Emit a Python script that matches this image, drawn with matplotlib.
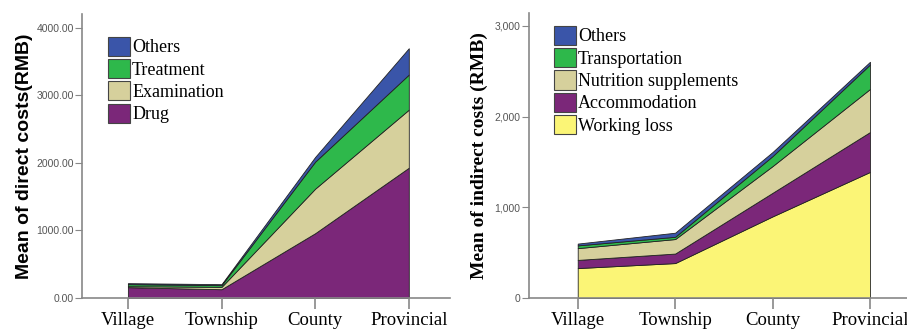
import matplotlib
matplotlib.use("Agg")
import matplotlib.pyplot as plt
from matplotlib.patches import Patch
import numpy as np

categories = ["Village", "Township", "County", "Provincial"]

# Direct costs (RMB)
direct_labels = ["Drug", "Examination", "Treatment", "Others"]
drug = [160, 130, 960, 1930]
examination = [15, 35, 660, 860]
treatment = [30, 25, 400, 520]
others_direct = [15, 15, 70, 390]

# Indirect costs (RMB)
indirect_labels = ["Working loss", "Accommodation", "Nutrition supplements", "Transportation", "Others"]
working_loss = [330, 385, 900, 1390]
accommodation = [90, 105, 260, 440]
nutrition = [130, 160, 295, 475]
transportation = [30, 25, 110, 270]
others_indirect = [20, 45, 45, 30]

purple = "#7B2779"
khaki = "#D6D09C"
green = "#2EB84B"
blue = "#3A55A9"
yellow = "#FBF576"

fig = plt.figure(figsize=(9.07, 3.31), dpi=100)
W, H = 907, 331

def add_ax(l, r, b, t):
    return fig.add_axes([l / W, 1 - b / H, (r - l) / W, (b - t) / H])

serif = "Liberation Serif"
sans = "Liberation Sans"

def style(ax):
    for s in ["top", "right"]:
        ax.spines[s].set_visible(False)
    for s in ["left", "bottom"]:
        ax.spines[s].set_color("#888888")
        ax.spines[s].set_linewidth(1.2)
    ax.tick_params(axis="y", direction="out", length=5, color="#888888", labelsize=7.5,
                   labelcolor="#555555", pad=1)
    ax.tick_params(axis="x", direction="out", length=8, color="#888888", width=1.2,
                   labelsize=13.5, pad=2)
    for lab in ax.get_yticklabels():
        lab.set_fontfamily(sans)
    for lab in ax.get_xticklabels():
        lab.set_fontfamily(serif)

x = np.arange(len(categories))

leg_kw = dict(loc="upper left", frameon=False, prop={"family": serif, "size": 13},
              handlelength=1.25, handleheight=1.25, handletextpad=0.1, labelspacing=0.15,
              borderaxespad=0, borderpad=0)

# Left panel
ax1 = add_ax(82, 450, 298, 14)
ax1.stackplot(x, drug, examination, treatment, others_direct,
              colors=[purple, khaki, green, blue], edgecolor="#222222", linewidth=0.6)
ax1.set_xlim(-0.49, 3.44)
ax1.set_ylim(0, 4207)
ax1.set_xticks(x)
ax1.set_xticklabels(categories)
ax1.set_yticks([0, 1000, 2000, 3000, 4000])
ax1.set_yticklabels(["0.00", "1000.00", "2000.00", "3000.00", "4000.00"])
style(ax1)
ax1.set_ylabel("Mean of direct costs(RMB)", fontfamily=sans, fontweight="bold", fontsize=14, labelpad=2)
h1 = [Patch(facecolor=c, edgecolor="#444444", linewidth=0.8) for c in [blue, green, khaki, purple]]
ax1.legend(h1, ["Others", "Treatment", "Examination", "Drug"],
           bbox_to_anchor=(0.07, 0.92), **leg_kw)

# Right panel
ax2 = add_ax(529, 907, 298, 13)
ax2.stackplot(x, working_loss, accommodation, nutrition, transportation, others_indirect,
              colors=[yellow, purple, khaki, green, blue], edgecolor="#222222", linewidth=0.6)
ax2.set_xlim(-0.50, 3.38)
ax2.set_ylim(0, 3143)
ax2.set_xticks(x)
ax2.set_xticklabels(categories)
ax2.set_yticks([0, 1000, 2000, 3000])
ax2.set_yticklabels(["0", "1,000", "2,000", "3,000"])
style(ax2)
ax2.set_ylabel("Mean of indirect costs (RMB)", fontfamily=serif, fontweight="bold", fontsize=14, labelpad=5)
h2 = [Patch(facecolor=c, edgecolor="#444444", linewidth=0.8) for c in [blue, green, khaki, purple, yellow]]
ax2.legend(h2, ["Others", "Transportation", "Nutrition supplements", "Accommodation", "Working loss"],
           bbox_to_anchor=(0.065, 0.955), **leg_kw)

fig.savefig("out.png", dpi=100)
